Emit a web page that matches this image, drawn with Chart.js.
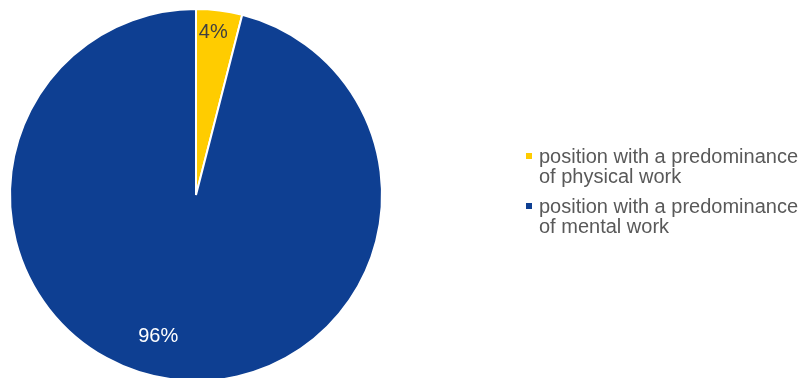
<!DOCTYPE html>
<html>
<head>
<meta charset="utf-8">
<script src="https://cdn.jsdelivr.net/npm/chart.js@4/dist/chart.umd.min.js"></script>
<style>
  html, body { margin: 0; padding: 0; background: #fff; overflow: hidden; }
  #wrap { position: relative; width: 800px; height: 378px; overflow: hidden; }
  #chart { position: absolute; left: 0; top: 0; }
  #legend { position: absolute; left: 539px; top: 146px; font-family: "Liberation Sans", Arial, sans-serif;
            font-size: 20px; line-height: 20px; color: #595959; white-space: nowrap; }
  #legend .item { position: relative; margin-bottom: 10px; }
  #legend .box { position: absolute; left: -13px; top: 7px; width: 6px; height: 6px; }
</style>
</head>
<body>
<div id="wrap">
  <canvas id="chart" width="800" height="390"></canvas>
  <div id="legend"></div>
</div>
<script>
// categories (multi-line labels) and their shares in percent
const categories = [
  ['position with a predominance', 'of physical work'],
  ['position with a predominance', 'of mental work']
];
const shares = [4, 96];
const sliceColors = ['#FFCC00', '#0E3F92'];
const valueLabelColors = ['#404040', '#FFFFFF'];

// percentage labels inside the slices
const sliceLabels = {
  id: 'sliceLabels',
  afterDatasetsDraw(chart, args, opts) {
    const ctx = chart.ctx;
    const meta = chart.getDatasetMeta(0);
    ctx.save();
    ctx.font = '20px "Liberation Sans", Arial, sans-serif';
    ctx.textAlign = 'center';
    ctx.textBaseline = 'middle';
    meta.data.forEach((arc, i) => {
      const p = arc.getProps(['x', 'y', 'startAngle', 'endAngle', 'outerRadius'], true);
      const a = (p.startAngle + p.endAngle) / 2 + opts.angleShift[i];
      const r = p.outerRadius * opts.radial[i];
      ctx.fillStyle = valueLabelColors[i];
      ctx.fillText(shares[i] + '%', p.x + Math.cos(a) * r, p.y + Math.sin(a) * r);
    });
    ctx.restore();
  }
};

const chart = new Chart(document.getElementById('chart'), {
  type: 'pie',
  data: {
    labels: categories,
    datasets: [{
      data: shares,
      backgroundColor: sliceColors,
      borderColor: '#FFFFFF',
      borderWidth: 2,
      hoverOffset: 0
    }]
  },
  options: {
    responsive: false,
    animation: false,
    layout: { padding: { left: 9, top: 8, bottom: 8, right: 417 } },
    plugins: {
      legend: { display: false },
      tooltip: { enabled: false },
      sliceLabels: { radial: [0.88, 0.785], angleShift: [-0.02, 0.136] }
    }
  },
  plugins: [sliceLabels]
});

// HTML legend built from the chart's own legend items
const legendEl = document.getElementById('legend');
chart.options.plugins.legend.labels.generateLabels(chart).forEach((item) => {
  const row = document.createElement('div');
  row.className = 'item';
  const box = document.createElement('span');
  box.className = 'box';
  box.style.background = item.fillStyle;
  row.appendChild(box);
  const lines = Array.isArray(item.text) ? item.text : [item.text];
  lines.forEach((line, k) => {
    if (k) row.appendChild(document.createElement('br'));
    row.appendChild(document.createTextNode(line));
  });
  legendEl.appendChild(row);
});
</script>
</body>
</html>
